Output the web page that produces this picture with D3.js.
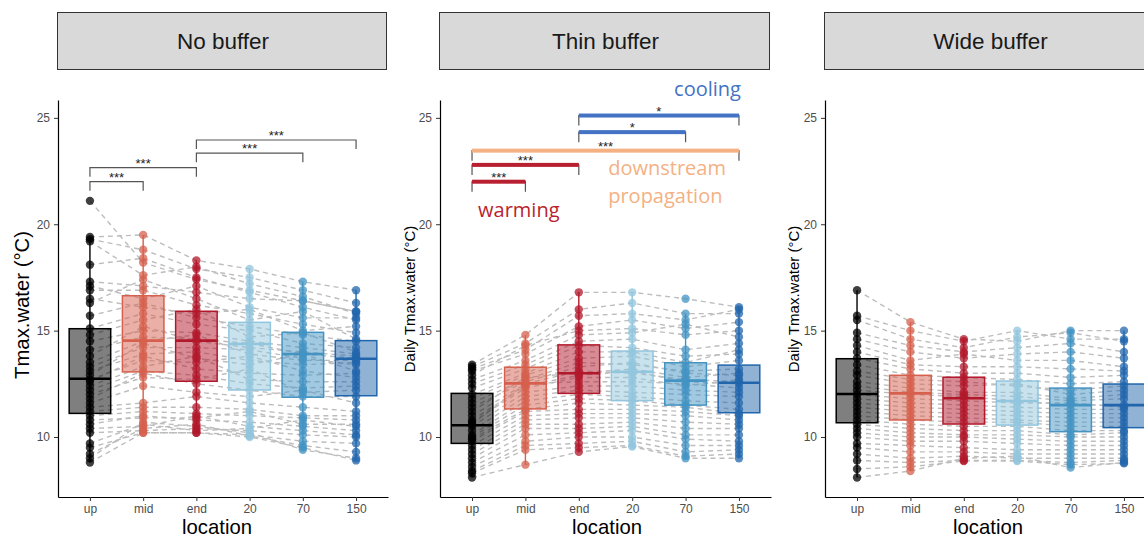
<!DOCTYPE html>
<html>
<head>
<meta charset="utf-8">
<script src="https://cdn.jsdelivr.net/npm/d3@7"></script>
<style>
body { margin: 0; background: #fff; }
text { font-family: "Liberation Sans", Arial, sans-serif; }
.note { font-family: "Open Sans", sans-serif; }
</style>
</head>
<body>
<svg id="chart" width="1144" height="536"></svg>
<script>
// categories and labels
var locations = ["up", "mid", "end", "20", "70", "150"];
var panelNames = ["No buffer", "Thin buffer", "Wide buffer"];
var yLabels = ["Tmax.water (°C)", "Daily Tmax.water (°C)", "Daily Tmax.water (°C)"];
var yTicks = [10, 15, 20, 25];

// box stats per location: [whisker low, Q1, median, Q3, whisker high]
var noBufferBoxes = [
  [8.8, 11.11, 12.74, 15.09, 19.4],
  [10.2, 13.06, 14.53, 16.64, 19.5],
  [10.2, 12.62, 14.53, 15.91, 18.3],
  [10.05, 12.21, 14.37, 15.39, 17.9],
  [9.4, 11.87, 13.9, 14.92, 17.3],
  [8.9, 11.94, 13.68, 14.53, 16.9]
];
var thinBufferBoxes = [
  [8.1, 9.7, 10.55, 12.05, 13.4],
  [8.7, 11.32, 12.52, 13.28, 14.8],
  [9.3, 12.05, 13.0, 14.33, 16.8],
  [9.55, 11.71, 13.07, 14.04, 16.8],
  [9.0, 11.5, 12.65, 13.49, 15.8],
  [9.0, 11.14, 12.55, 13.38, 16.1]
];
var wideBufferBoxes = [
  [8.1, 10.67, 12.02, 13.68, 16.9],
  [8.4, 10.8, 12.05, 12.9, 15.4],
  [8.87, 10.61, 11.82, 12.81, 14.6],
  [8.87, 10.56, 11.69, 12.63, 15.0],
  [8.56, 10.25, 11.5, 12.3, 15.0],
  [8.76, 10.44, 11.5, 12.49, 15.0]
];

// one row per site, values at up, mid, end, 20, 70, 150
var noBufferSites = [
  [21.1, 18.2, 17.4, 16.9, 16.4, 15.9],
  [19.4, 19.5, 18.3, 17.9, 17.3, 16.9],
  [19.3, 18.8, 17.9, 17.5, 16.9, 16.3],
  [19.2, 17.6, 18.0, 17.2, 16.6, 15.8],
  [18.1, 18.4, 17.5, 16.8, 16.1, 15.5],
  [17.3, 17.1, 16.8, 16.5, 16.4, 15.9],
  [17.1, 16.5, 17.1, 16.1, 15.6, 15.6],
  [16.9, 16.9, 16.2, 15.8, 15.3, 14.9],
  [16.5, 16.1, 15.8, 16.0, 15.0, 15.2],
  [16.3, 17.4, 16.5, 15.5, 15.9, 14.6],
  [15.7, 16.3, 15.6, 15.2, 14.8, 14.5],
  [15.1, 15.8, 15.3, 15.0, 14.4, 14.2],
  [14.8, 15.5, 16.0, 14.7, 14.9, 14.0],
  [14.5, 15.0, 14.9, 14.5, 14.2, 13.9],
  [14.1, 14.7, 14.6, 14.4, 13.9, 13.7],
  [13.8, 15.2, 14.5, 14.2, 14.0, 13.8],
  [13.5, 14.5, 14.8, 13.9, 13.6, 13.6],
  [13.3, 14.2, 14.2, 14.1, 13.7, 13.4],
  [13.1, 13.9, 14.0, 13.6, 13.4, 13.5],
  [12.9, 14.4, 13.7, 13.4, 13.9, 13.1],
  [12.7, 13.6, 13.5, 13.8, 13.1, 12.8],
  [12.6, 13.8, 13.2, 13.0, 12.9, 13.0],
  [12.4, 13.3, 13.8, 12.7, 12.6, 12.6],
  [12.2, 13.1, 12.9, 12.5, 12.3, 12.4],
  [12.0, 12.8, 12.7, 13.2, 12.1, 12.2],
  [11.8, 13.0, 12.5, 12.2, 11.9, 11.9],
  [11.6, 12.4, 12.1, 11.9, 12.2, 11.6],
  [11.4, 11.6, 11.9, 11.6, 11.4, 11.2],
  [11.2, 11.4, 11.4, 11.3, 11.0, 11.0],
  [11.0, 11.2, 11.1, 11.0, 10.9, 10.8],
  [10.8, 10.9, 10.9, 11.2, 10.6, 10.6],
  [10.6, 11.0, 10.8, 10.7, 10.5, 10.3],
  [10.4, 10.5, 11.0, 10.5, 10.3, 10.1],
  [10.2, 10.3, 10.4, 10.3, 10.1, 10.0],
  [9.7, 10.6, 10.3, 10.4, 10.8, 10.5],
  [9.5, 10.2, 10.2, 10.1, 9.8, 9.7],
  [9.2, 10.4, 10.6, 10.05, 9.6, 9.3],
  [9.0, 10.7, 10.5, 10.2, 9.4, 9.0],
  [8.8, 10.2, 10.2, 10.0, 9.5, 8.9]
];
var thinBufferSites = [
  [13.4, 14.8, 16.8, 16.8, 16.5, 16.1],
  [13.3, 14.4, 16.0, 16.3, 15.8, 15.8],
  [13.2, 14.1, 15.7, 15.8, 15.5, 16.0],
  [13.1, 13.9, 15.2, 15.5, 15.1, 15.4],
  [12.9, 14.3, 15.0, 15.1, 14.8, 15.0],
  [12.7, 13.6, 14.8, 14.9, 15.3, 14.7],
  [12.5, 13.4, 14.5, 14.6, 14.1, 14.4],
  [12.3, 13.2, 14.3, 14.2, 13.8, 13.9],
  [12.0, 13.0, 14.0, 14.0, 13.5, 14.1],
  [11.8, 12.9, 13.7, 13.8, 13.3, 13.6],
  [11.6, 12.7, 13.5, 13.4, 13.1, 13.2],
  [11.4, 12.6, 13.3, 13.5, 13.0, 12.9],
  [11.2, 12.8, 13.0, 13.2, 12.8, 13.0],
  [11.0, 12.5, 13.1, 13.0, 12.7, 12.6],
  [10.8, 12.4, 12.9, 13.1, 12.6, 12.5],
  [10.7, 12.3, 12.8, 12.8, 12.4, 12.7],
  [10.6, 12.5, 12.6, 12.6, 12.5, 12.3],
  [10.5, 12.1, 12.4, 12.4, 12.2, 12.1],
  [10.3, 11.9, 12.2, 12.1, 12.0, 11.9],
  [10.1, 11.7, 12.0, 11.9, 11.7, 11.6],
  [10.0, 11.5, 11.8, 11.7, 11.5, 11.3],
  [9.9, 11.3, 11.6, 11.5, 11.4, 11.1],
  [9.8, 11.2, 11.3, 11.3, 11.2, 11.0],
  [9.6, 11.0, 11.1, 11.1, 11.0, 10.8],
  [9.4, 10.8, 10.9, 10.9, 10.7, 10.6],
  [9.2, 10.6, 10.6, 10.7, 10.4, 10.4],
  [9.0, 10.4, 10.4, 10.5, 10.1, 10.1],
  [8.8, 10.1, 10.2, 10.3, 9.9, 9.8],
  [8.6, 9.8, 10.0, 10.0, 9.6, 9.6],
  [8.4, 9.6, 9.7, 9.8, 9.3, 9.4],
  [8.3, 9.4, 9.5, 9.6, 9.1, 9.2],
  [8.1, 8.7, 9.3, 9.55, 9.0, 9.0]
];
var wideBufferSites = [
  [16.9, 15.4, 14.6, 14.5, 15.0, 15.0],
  [15.7, 15.0, 14.5, 15.0, 14.6, 14.6],
  [15.5, 14.6, 14.2, 14.7, 14.9, 14.5],
  [14.9, 14.3, 14.0, 14.2, 14.4, 14.0],
  [14.6, 14.0, 13.7, 13.9, 14.0, 13.7],
  [14.3, 13.6, 13.9, 13.6, 13.6, 13.3],
  [14.0, 13.4, 13.3, 13.3, 13.2, 13.1],
  [13.7, 13.2, 13.0, 13.0, 12.8, 12.9],
  [13.4, 12.9, 12.8, 12.7, 12.5, 12.6],
  [13.1, 12.7, 12.6, 12.4, 12.2, 12.4],
  [12.9, 12.5, 12.4, 12.5, 12.0, 12.2],
  [12.6, 12.3, 12.1, 12.1, 11.8, 12.0],
  [12.4, 12.1, 12.0, 11.9, 11.7, 11.8],
  [12.2, 12.0, 11.9, 11.7, 11.5, 11.5],
  [12.0, 11.8, 11.7, 11.6, 11.6, 11.4],
  [11.8, 11.6, 11.5, 11.4, 11.3, 11.3],
  [11.6, 11.4, 11.3, 11.2, 11.1, 11.1],
  [11.4, 11.2, 11.1, 11.0, 10.9, 10.9],
  [11.2, 11.0, 10.9, 10.8, 10.7, 10.7],
  [11.0, 10.8, 10.7, 10.7, 10.5, 10.5],
  [10.8, 10.6, 10.5, 10.5, 10.3, 10.3],
  [10.6, 10.4, 10.3, 10.3, 10.1, 10.2],
  [10.4, 10.2, 10.1, 10.1, 10.0, 10.0],
  [10.2, 10.0, 10.0, 9.9, 9.8, 9.8],
  [10.0, 9.8, 9.8, 9.7, 9.6, 9.6],
  [9.7, 9.6, 9.5, 9.4, 9.4, 9.4],
  [9.5, 9.3, 9.3, 9.2, 9.2, 9.2],
  [9.2, 9.0, 9.1, 9.0, 9.0, 9.0],
  [8.9, 8.8, 8.9, 8.9, 8.8, 8.9],
  [8.5, 8.6, 8.87, 8.87, 8.7, 8.76],
  [8.1, 8.4, 9.0, 9.1, 8.56, 8.8]
];

// significance brackets: [from, to, height, label, group]
var noBufferBrackets = [
  ["up", "mid", 22.0, "***", null],
  ["up", "end", 22.66, "***", null],
  ["end", "70", 23.34, "***", null],
  ["end", "150", 23.96, "***", null]
];
var thinBufferBrackets = [
  ["up", "mid", 22.0, "***", "warming"],
  ["up", "end", 22.79, "***", "warming"],
  ["up", "150", 23.46, "***", "propagation"],
  ["end", "70", 24.33, "*", "cooling"],
  ["end", "150", 25.11, "*", "cooling"]
];
var wideBufferBrackets = [];

// colours
var boxColors = ["#000000", "#d6604d", "#b2182b", "#92c5de", "#4393c3", "#2166ac"];
var groupColors = { warming: "#b81f30", propagation: "#f4b183", cooling: "#4472c4" };

var panelBoxes = [noBufferBoxes, thinBufferBoxes, wideBufferBoxes];
var panelSites = [noBufferSites, thinBufferSites, wideBufferSites];
var panelBrackets = [noBufferBrackets, thinBufferBrackets, wideBufferBrackets];

var svg = d3.select("#chart");
var plotTop = 100, plotBottom = 497;
var panelRange = [[58, 388], [440, 771], [825, 1156]];
var yLabelX = [22, 409, 793];
var yLabelY = [305, 299, 299];
var yLabelSize = [20.3, 15, 15];
var xTitleX = [217, 607, 988];

var y = d3.scaleLinear().domain([7.18, 25.84]).range([plotBottom, plotTop]);

panelNames.forEach(function(name, i) {
  var x = d3.scalePoint().domain(locations).range(panelRange[i]).padding(0.6);
  var bw = x.step() * 0.78;
  var g = svg.append("g");

  // strip
  g.append("rect")
    .attr("x", panelRange[i][0] - 0.5)
    .attr("y", 12.5)
    .attr("width", panelRange[i][1] - panelRange[i][0] - 1)
    .attr("height", 57)
    .attr("fill", "#d9d9d9")
    .attr("stroke", "#333")
    .attr("stroke-width", 1);
  g.append("text")
    .attr("x", (panelRange[i][0] + panelRange[i][1]) / 2)
    .attr("y", 48.5)
    .attr("text-anchor", "middle")
    .attr("font-size", "22.5px")
    .attr("fill", "#1a1a1a")
    .text(name);

  // paired lines (under the translucent boxes)
  var line = d3.line()
    .x(function(v, j) { return x(locations[j]); })
    .y(function(v) { return y(v); });

  g.selectAll(".pair")
    .data(panelSites[i])
    .enter().append("path")
    .attr("class", "pair")
    .attr("d", line)
    .attr("fill", "none")
    .attr("stroke", "#bdbdbd")
    .attr("stroke-width", 1.4)
    .attr("stroke-dasharray", "5,4");

  // boxes
  var boxes = g.selectAll(".box")
    .data(panelBoxes[i])
    .enter().append("g")
    .attr("class", "box");

  boxes.append("line")
    .attr("x1", function(d, j) { return x(locations[j]); })
    .attr("x2", function(d, j) { return x(locations[j]); })
    .attr("y1", function(d) { return y(d[0]); })
    .attr("y2", function(d) { return y(d[4]); })
    .attr("stroke", function(d, j) { return boxColors[j]; })
    .attr("stroke-width", 1.4);

  boxes.append("rect")
    .attr("x", function(d, j) { return x(locations[j]) - bw / 2; })
    .attr("y", function(d) { return y(d[3]); })
    .attr("width", bw)
    .attr("height", function(d) { return y(d[1]) - y(d[3]); })
    .attr("fill", function(d, j) { return boxColors[j]; })
    .attr("fill-opacity", 0.5)
    .attr("stroke", function(d, j) { return boxColors[j]; })
    .attr("stroke-width", 1.5);

  boxes.append("line")
    .attr("x1", function(d, j) { return x(locations[j]) - bw / 2; })
    .attr("x2", function(d, j) { return x(locations[j]) + bw / 2; })
    .attr("y1", function(d) { return y(d[2]); })
    .attr("y2", function(d) { return y(d[2]); })
    .attr("stroke", function(d, j) { return boxColors[j]; })
    .attr("stroke-width", 2.6);

  // points
  panelSites[i].forEach(function(row) {
    g.selectAll(null)
      .data(row)
      .enter().append("circle")
      .attr("cx", function(v, j) { return x(locations[j]); })
      .attr("cy", function(v) { return y(v); })
      .attr("r", 4.2)
      .attr("fill", function(v, j) { return boxColors[j]; })
      .attr("fill-opacity", 0.75);
  });

  // significance brackets
  panelBrackets[i].forEach(function(b) {
    var x1 = x(b[0]), x2 = x(b[1]), yy = y(b[2]);
    var tick = b[4] ? 10 : 9;
    g.append("path")
      .attr("d", "M" + x1 + "," + (yy + tick) + "V" + yy + "H" + x2 + "V" + (yy + tick))
      .attr("fill", "none")
      .attr("stroke", "#555")
      .attr("stroke-width", 1.2);
    if (b[4]) {
      g.append("rect")
        .attr("x", x1)
        .attr("y", yy - 2)
        .attr("width", x2 - x1)
        .attr("height", 4)
        .attr("fill", groupColors[b[4]]);
    }
    g.append("text")
      .attr("x", (x1 + x2) / 2)
      .attr("y", yy)
      .attr("text-anchor", "middle")
      .attr("font-size", "13px")
      .attr("fill", "#222")
      .text(b[3]);
  });

  // axes
  var ya = g.append("g")
    .attr("transform", "translate(" + panelRange[i][0] + ",0)")
    .call(d3.axisLeft(y).tickValues(yTicks).tickSize(4).tickSizeOuter(0).tickPadding(4));
  var xa = g.append("g")
    .attr("transform", "translate(0," + plotBottom + ")")
    .call(d3.axisBottom(x).tickSize(4).tickSizeOuter(0).tickPadding(3));
  [ya, xa].forEach(function(a) {
    a.select(".domain").attr("stroke", "#000").attr("stroke-width", 1.2);
    a.selectAll(".tick line").attr("stroke", "#333");
    a.selectAll(".tick text")
      .attr("fill", "#4d4d4d")
      .attr("font-size", "12px")
      .attr("font-family", "Liberation Sans, Arial, sans-serif");
  });

  // axis titles
  g.append("text")
    .attr("transform", "translate(" + yLabelX[i] + "," + yLabelY[i] + ") rotate(-90)")
    .attr("text-anchor", "middle")
    .attr("dominant-baseline", "central")
    .attr("font-size", yLabelSize[i] + "px")
    .attr("fill", "#000")
    .text(yLabels[i]);
  g.append("text")
    .attr("x", xTitleX[i])
    .attr("y", 533.5)
    .attr("text-anchor", "middle")
    .attr("font-size", "20.3px")
    .attr("fill", "#000")
    .text("location");

  // coloured annotations in the thin buffer panel
  if (i === 1) {
    g.append("text").attr("class", "note")
      .attr("x", x("150") + 2).attr("y", 96)
      .attr("text-anchor", "end")
      .attr("font-size", "20px")
      .attr("fill", groupColors.cooling)
      .text("cooling");
    g.append("text").attr("class", "note")
      .attr("x", x("20") - 24).attr("y", 175)
      .attr("font-size", "20px")
      .attr("fill", groupColors.propagation)
      .text("downstream");
    g.append("text").attr("class", "note")
      .attr("x", x("20") - 24).attr("y", 203)
      .attr("font-size", "20px")
      .attr("fill", groupColors.propagation)
      .text("propagation");
    g.append("text").attr("class", "note")
      .attr("x", x("up") + 6).attr("y", 217)
      .attr("font-size", "20px")
      .attr("fill", groupColors.warming)
      .text("warming");
  }
});
</script>
</body>
</html>
